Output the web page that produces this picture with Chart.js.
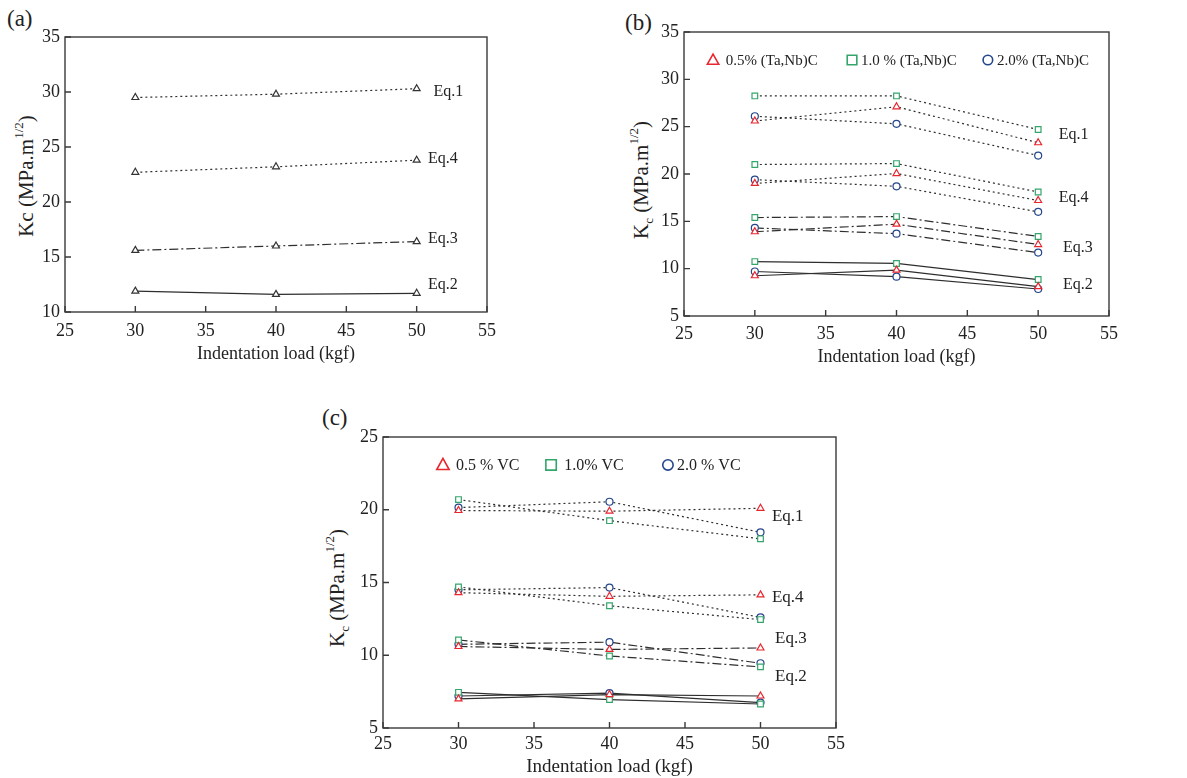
<!DOCTYPE html>
<html><head><meta charset="utf-8">
<script src="https://cdn.jsdelivr.net/npm/chart.js@4.4.1/dist/chart.umd.min.js"></script>
<style>
body{margin:0;background:#fff;width:1187px;height:778px;position:relative;overflow:hidden;font-family:"Liberation Serif","DejaVu Serif",serif;color:#222}
.pane{position:absolute}
.letter{position:absolute;font-size:23px;line-height:1}
.ytitle{position:absolute;font-size:21px;white-space:nowrap;line-height:1;transform:translate(-50%,-50%) rotate(-90deg)}
.ytitle sup{font-size:13px;position:relative;top:-2px}
.ytitle sub{font-size:13px}
</style></head>
<body>
<div class="letter" style="left:7px;top:7px">(a)</div>
<div class="letter" style="left:625px;top:11px">(b)</div>
<div class="letter" style="left:322px;top:406px">(c)</div>
<div class="ytitle" style="left:25px;top:176px">Kc (MPa.m<sup>1/2</sup>)</div>
<div class="ytitle" style="left:642px;top:180px">K<sub>c</sub> (MPa.m<sup>1/2</sup>)</div>
<div class="ytitle" style="left:338px;top:588px">K<sub>c</sub> (MPa.m<sup>1/2</sup>)</div>
<canvas id="ca" class="pane" style="left:0;top:0" width="600" height="380"></canvas>
<canvas id="cb" class="pane" style="left:600px;top:0" width="587" height="380"></canvas>
<canvas id="cc" class="pane" style="left:320px;top:400px" width="567" height="378"></canvas>
<script>
// ---------- data ----------
const loads = [30, 40, 50];
const eqNames = ['Eq.1', 'Eq.4', 'Eq.3', 'Eq.2'];
// panel (a)
const aEq1 = [29.5, 29.8, 30.3];
const aEq4 = [22.7, 23.2, 23.8];
const aEq3 = [15.6, 16.0, 16.4];
const aEq2 = [11.9, 11.6, 11.7];
// panel (b): (Ta,Nb)C
const legendB = ['0.5% (Ta,Nb)C', '1.0 % (Ta,Nb)C', '2.0% (Ta,Nb)C'];
const bEq1_05 = [25.6, 27.1, 23.3];
const bEq1_10 = [28.25, 28.25, 24.7];
const bEq1_20 = [26.1, 25.3, 21.95];
const bEq4_05 = [19.0, 20.05, 17.2];
const bEq4_10 = [21.0, 21.1, 18.1];
const bEq4_20 = [19.4, 18.7, 16.0];
const bEq3_05 = [13.9, 14.7, 12.55];
const bEq3_10 = [15.4, 15.5, 13.4];
const bEq3_20 = [14.3, 13.7, 11.7];
const bEq2_05 = [9.25, 9.85, 8.1];
const bEq2_10 = [10.75, 10.55, 8.85];
const bEq2_20 = [9.7, 9.15, 7.85];
// panel (c): VC
const legendC = ['0.5 % VC', '1.0% VC', '2.0 % VC'];
const cEq1_05 = [19.95, 19.9, 20.1];
const cEq1_10 = [20.7, 19.25, 18.0];
const cEq1_20 = [20.15, 20.55, 18.45];
const cEq4_05 = [14.3, 14.05, 14.15];
const cEq4_10 = [14.7, 13.4, 12.45];
const cEq4_20 = [14.5, 14.65, 12.6];
const cEq3_05 = [10.6, 10.4, 10.5];
const cEq3_10 = [11.05, 9.95, 9.2];
const cEq3_20 = [10.75, 10.9, 9.45];
const cEq2_05 = [7.0, 7.3, 7.2];
const cEq2_10 = [7.45, 6.95, 6.65];
const cEq2_20 = [7.2, 7.4, 6.75];

// ---------- styles ----------
const FONT = '"Liberation Serif", "DejaVu Serif", serif';
const TXT = '#222';
const LINE = '#2e2e2e';
const RED = '#e8262e', GREEN = '#34a56b', BLUE = '#24468c';
const DOT = [2, 3], DASHDOT = [9, 3, 2, 3], SOLID = [];
const eqDash = { 'Eq.1': DOT, 'Eq.4': DOT, 'Eq.3': DASHDOT, 'Eq.2': SOLID };

function pts(arr) { return loads.map((l, i) => ({ x: l, y: arr[i] })); }
function ds(arr, eq, color, style, r) {
  return {
    data: pts(arr), borderColor: LINE, borderWidth: 1.2, borderDash: eqDash[eq],
    pointStyle: style, pointRadius: r, pointBorderColor: color, pointBackgroundColor: '#fff',
    pointBorderWidth: 1.2, tension: 0, fill: false
  };
}

function shape(ctx, style, x, y, r) {
  ctx.beginPath();
  if (style === 'triangle') {
    ctx.moveTo(x, y - r); ctx.lineTo(x + r * 0.95, y + r * 0.7); ctx.lineTo(x - r * 0.95, y + r * 0.7); ctx.closePath();
  } else if (style === 'rect') {
    ctx.rect(x - r * 0.8, y - r * 0.8, r * 1.6, r * 1.6);
  } else {
    ctx.arc(x, y, r * 0.8, 0, Math.PI * 2);
  }
  ctx.fill(); ctx.stroke();
}

const decor = {
  id: 'decor',
  afterDraw(chart, args, o) {
    const { ctx, chartArea: a, scales: { x, y } } = chart;
    ctx.save();
    ctx.strokeStyle = '#3a3a3a'; ctx.lineWidth = 1.4; ctx.setLineDash([]);
    ctx.strokeRect(a.left, a.top, a.right - a.left, a.bottom - a.top);
    ctx.beginPath();
    x.ticks.forEach(t => { const px = x.getPixelForValue(t.value); ctx.moveTo(px, a.bottom); ctx.lineTo(px, a.bottom - 6); });
    y.ticks.forEach(t => { const py = y.getPixelForValue(t.value); ctx.moveTo(a.left, py); ctx.lineTo(a.left + 6, py); });
    ctx.stroke();
    ctx.fillStyle = TXT; ctx.font = o.eqFont; ctx.textBaseline = 'middle'; ctx.textAlign = 'left';
    o.eq.forEach(e => ctx.fillText(e.text, x.getPixelForValue(e.x), y.getPixelForValue(e.y)));
    if (o.legend) {
      o.legend.forEach(l => {
        const px = x.getPixelForValue(l.mx), py = y.getPixelForValue(l.y);
        ctx.strokeStyle = l.color; ctx.fillStyle = '#fff'; ctx.lineWidth = 1.6;
        shape(ctx, l.style, px, py, l.r);
        ctx.fillStyle = TXT; ctx.font = o.legFont; ctx.textBaseline = 'middle'; ctx.textAlign = 'left';
        ctx.fillText(l.text, x.getPixelForValue(l.tx), py + 1);
      });
    }
    ctx.restore();
  }
};

function makeOpts(p) {
  return {
    responsive: false, animation: false, devicePixelRatio: 1,
    layout: { padding: { top: p.top, right: p.right, left: 0, bottom: 0 } },
    plugins: { legend: { display: false }, tooltip: { enabled: false }, decor: p.decor },
    scales: {
      x: {
        type: 'linear', min: 25, max: 55,
        ticks: { stepSize: 5, padding: p.xpad, color: TXT, font: { family: FONT, size: 18 }, maxRotation: 0 },
        grid: { display: false, drawTicks: false }, border: { display: false },
        title: { display: true, text: 'Indentation load (kgf)', color: TXT, font: { family: FONT, size: p.xtSize }, padding: { top: 0, bottom: p.xtPad } },
        afterFit(s) { s.height = p.xh; }
      },
      y: {
        type: 'linear', min: p.ymin, max: p.ymax,
        ticks: { stepSize: 5, padding: 5, color: TXT, font: { family: FONT, size: 18 } },
        grid: { display: false, drawTicks: false }, border: { display: false },
        afterFit(s) { s.width = p.yw; }
      }
    }
  };
}

// ---------- panel (a) ----------
new Chart(document.getElementById('ca'), {
  type: 'line',
  data: { datasets: [
    ds(aEq1, 'Eq.1', '#333', 'triangle', 4),
    ds(aEq4, 'Eq.4', '#333', 'triangle', 4),
    ds(aEq3, 'Eq.3', '#333', 'triangle', 4),
    ds(aEq2, 'Eq.2', '#333', 'triangle', 4)
  ] },
  options: makeOpts({
    top: 37, right: 113, xh: 68, yw: 65, xpad: 8, xtSize: 18, xtPad: 15, ymin: 10, ymax: 35,
    decor: { eqFont: '16px ' + FONT, eq: [
      { text: eqNames[0], x: 51.2, y: 30.0 },
      { text: eqNames[1], x: 50.8, y: 23.9 },
      { text: eqNames[2], x: 50.8, y: 16.7 },
      { text: eqNames[3], x: 50.8, y: 12.45 }
    ] }
  }),
  plugins: [decor]
});

// ---------- panel (b) ----------
new Chart(document.getElementById('cb'), {
  type: 'line',
  data: { datasets: [
    ds(bEq1_05, 'Eq.1', RED, 'triangle', 4), ds(bEq1_10, 'Eq.1', GREEN, 'rect', 4), ds(bEq1_20, 'Eq.1', BLUE, 'circle', 3.5),
    ds(bEq4_05, 'Eq.4', RED, 'triangle', 4), ds(bEq4_10, 'Eq.4', GREEN, 'rect', 4), ds(bEq4_20, 'Eq.4', BLUE, 'circle', 3.5),
    ds(bEq3_05, 'Eq.3', RED, 'triangle', 4), ds(bEq3_10, 'Eq.3', GREEN, 'rect', 4), ds(bEq3_20, 'Eq.3', BLUE, 'circle', 3.5),
    ds(bEq2_05, 'Eq.2', RED, 'triangle', 4), ds(bEq2_10, 'Eq.2', GREEN, 'rect', 4), ds(bEq2_20, 'Eq.2', BLUE, 'circle', 3.5)
  ] },
  options: makeOpts({
    top: 32, right: 78, xh: 64, yw: 84, xpad: 7, xtSize: 18, xtPad: 12, ymin: 5, ymax: 35,
    decor: { eqFont: '16px ' + FONT, legFont: '15px ' + FONT,
      eq: [
        { text: eqNames[0], x: 51.46, y: 24.1 },
        { text: eqNames[1], x: 51.46, y: 17.47 },
        { text: eqNames[2], x: 51.75, y: 12.18 },
        { text: eqNames[3], x: 51.75, y: 8.28 }
      ],
      legend: [
        { text: legendB[0], style: 'triangle', color: RED, mx: 27.05, tx: 27.95, y: 32.04, r: 6 },
        { text: legendB[1], style: 'rect', color: GREEN, mx: 36.86, tx: 37.5, y: 32.04, r: 6 },
        { text: legendB[2], style: 'circle', color: BLUE, mx: 46.45, tx: 47.1, y: 32.04, r: 6 }
      ] }
  }),
  plugins: [decor]
});

// ---------- panel (c) ----------
new Chart(document.getElementById('cc'), {
  type: 'line',
  data: { datasets: [
    ds(cEq1_05, 'Eq.1', RED, 'triangle', 4), ds(cEq1_10, 'Eq.1', GREEN, 'rect', 4), ds(cEq1_20, 'Eq.1', BLUE, 'circle', 3.5),
    ds(cEq4_05, 'Eq.4', RED, 'triangle', 4), ds(cEq4_10, 'Eq.4', GREEN, 'rect', 4), ds(cEq4_20, 'Eq.4', BLUE, 'circle', 3.5),
    ds(cEq3_05, 'Eq.3', RED, 'triangle', 4), ds(cEq3_10, 'Eq.3', GREEN, 'rect', 4), ds(cEq3_20, 'Eq.3', BLUE, 'circle', 3.5),
    ds(cEq2_05, 'Eq.2', RED, 'triangle', 4), ds(cEq2_10, 'Eq.2', GREEN, 'rect', 4), ds(cEq2_20, 'Eq.2', BLUE, 'circle', 3.5)
  ] },
  options: makeOpts({
    top: 37, right: 51, xh: 50, yw: 63, xpad: 5, xtSize: 19, xtPad: 0, ymin: 5, ymax: 25,
    decor: { eqFont: '17px ' + FONT, legFont: '16px ' + FONT,
      eq: [
        { text: eqNames[0], x: 50.76, y: 19.5 },
        { text: eqNames[1], x: 50.76, y: 14.0 },
        { text: eqNames[2], x: 50.96, y: 11.12 },
        { text: eqNames[3], x: 50.96, y: 8.57 }
      ],
      legend: [
        { text: legendC[0], style: 'triangle', color: RED, mx: 28.97, tx: 29.83, y: 23.08, r: 6.5 },
        { text: legendC[1], style: 'rect', color: GREEN, mx: 36.13, tx: 37.0, y: 23.08, r: 6.5 },
        { text: legendC[2], style: 'circle', color: BLUE, mx: 43.87, tx: 44.47, y: 23.08, r: 6.5 }
      ] }
  }),
  plugins: [decor]
});
</script>
</body></html>
